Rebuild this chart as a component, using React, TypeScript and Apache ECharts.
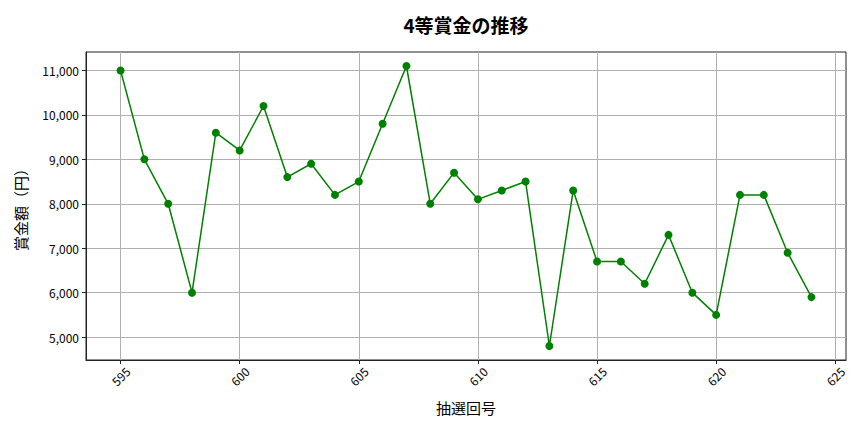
import React, { useEffect, useRef } from "react";
import * as echarts from "echarts";

const draws = [595, 596, 597, 598, 599, 600, 601, 602, 603, 604, 605, 606, 607, 608, 609, 610, 611, 612, 613, 614, 615, 616, 617, 618, 619, 620, 621, 622, 623, 624];
const prizes = [11000, 9000, 8000, 6000, 9600, 9200, 10200, 8600, 8900, 8200, 8500, 9800, 11100, 8000, 8700, 8100, 8300, 8500, 4800, 8300, 6700, 6700, 6200, 7300, 6000, 5500, 8200, 8200, 6900, 5900];
const xTicks = [595, 600, 605, 610, 615, 620, 625];
const yTicks = [5000, 6000, 7000, 8000, 9000, 10000, 11000];

const titleText = "4等賞金の推移";
const xName = "抽選回号";
const yName = "賞金額（円）";

const FONT = "'Noto Sans CJK JP', 'Noto Sans', sans-serif";

export default function App() {
  const ref = useRef<HTMLDivElement>(null);
  useEffect(() => {
    document.body.style.margin = "0";
    const chart = echarts.init(ref.current!, null, { renderer: "svg" });
    const left = 86, right = 18, top = 52, bottom = 72;
    chart.setOption({
      animation: false,
      backgroundColor: "#ffffff",
      textStyle: { fontFamily: FONT },
      graphic: [
        {
          type: "text",
          x: 466,
          y: 24,
          style: {
            text: titleText,
            fontSize: 19,
            fontWeight: "bold",
            fontFamily: FONT,
            fill: "#000",
            textAlign: "center",
            textVerticalAlign: "middle",
          },
        },
      ],
      grid: {
        left, right, top, bottom,
        containLabel: false,
        outerBoundsMode: "none",
        show: true,
        borderColor: "#222",
        borderWidth: 1,
        backgroundColor: "transparent",
      },
      xAxis: {
        type: "value",
        min: 593.55,
        max: 625.45,
        name: xName,
        nameLocation: "middle",
        nameGap: 40,
        nameTextStyle: { fontSize: 15, color: "#000", fontFamily: FONT },
        axisLine: { show: true, lineStyle: { color: "#222", width: 1 } },
        axisTick: { show: true, inside: false, length: 4, lineStyle: { color: "#222" }, customValues: xTicks },
        axisLabel: {
          customValues: xTicks,
          rotate: 45,
          align: "center",
          verticalAlign: "middle",
          margin: 16,
          fontSize: 12,
          color: "#000",
          fontFamily: FONT,
        },
        splitLine: { show: true, lineStyle: { color: "#b0b0b0", width: 1 } },
      },
      yAxis: {
        type: "value",
        min: 4485,
        max: 11415,
        name: yName,
        nameLocation: "middle",
        nameGap: 58,
        nameRotate: 90,
        nameTextStyle: { fontSize: 15, color: "#000", fontFamily: FONT },
        axisLine: { show: true, lineStyle: { color: "#222", width: 1 } },
        axisTick: { show: true, inside: false, length: 4, lineStyle: { color: "#222" }, customValues: yTicks },
        axisLabel: {
          customValues: yTicks,
          fontSize: 12,
          color: "#000",
          margin: 7,
          fontFamily: FONT,
          formatter: (v: number) => v.toLocaleString("en-US"),
        },
        splitLine: { show: true, lineStyle: { color: "#b0b0b0", width: 1 } },
      },
      series: [
        {
          type: "line",
          data: draws.map((d, i) => [d, prizes[i]]),
          symbol: "circle",
          symbolSize: 8,
          showSymbol: true,
          lineStyle: { color: "#008000", width: 1.5 },
          itemStyle: { color: "#008000" },
        },
      ],
    });
    return () => chart.dispose();
  }, []);
  return <div ref={ref} style={{ width: 864, height: 432, position: "absolute", left: 0, top: 0 }} />;
}
